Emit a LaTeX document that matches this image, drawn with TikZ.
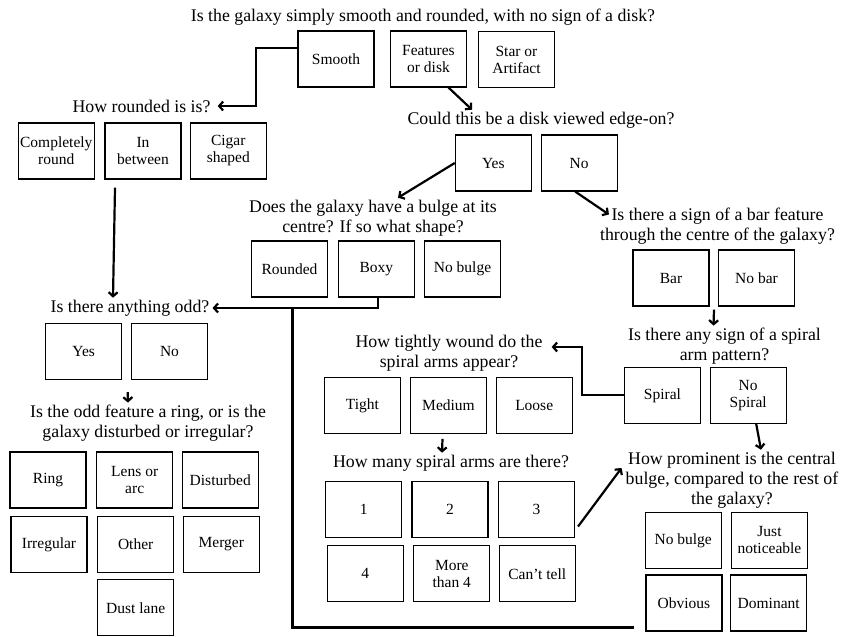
\documentclass[tikz,border=0pt]{standalone}
\usepackage{fontspec}
\setmainfont{Liberation Serif}
\usetikzlibrary{arrows.meta}
\tikzset{
  ques/.style={font=\fontsize{17.8}{20}\selectfont,align=center,inner sep=2pt},
  opt/.style={draw,line width=1.1pt,minimum width=76pt,minimum height=56pt,align=center,inner sep=1pt,font=\fontsize{15.5}{17}\selectfont},
  flow/.style={line width=2.2pt,-{Straight Barb[length=4pt,width=9pt]}},
  trunk/.style={line width=2.2pt},
}
\begin{document}
\begin{tikzpicture}[x=1pt,y=1pt]
  \useasboundingbox (0,0) rectangle (844,-637);
  \node[ques] (qsmooth) at (423,-17) {Is the galaxy simply smooth and rounded, with no sign of a disk?};
  \node[opt] (smooth) at (336,-59) {Smooth};
  \node[opt] (feat) at (428.5,-59) {Features\\or disk};
  \node[opt] (star) at (516.5,-59.5) {Star or\\Artifact};
  \node[ques] (qround) at (141.5,-106) {How rounded is is?};
  \node[opt] (cround) at (56.3,-151) {Completely\\round};
  \node[opt] (between) at (143,-151) {In\\between};
  \node[opt] (cigar) at (228.3,-151) {Cigar\\shaped};
  \node[ques] (qedge) at (541,-120) {Could this be a disk viewed edge-on?};
  \node[opt] (eyes) at (493.3,-163) {Yes};
  \node[opt] (eno) at (579.2,-163) {No};
  \node[ques] (qbulge) at (373,-218) {Does the galaxy have a bulge at its\\centre? If so what shape?};
  \node[opt] (brounded) at (289.5,-269) {Rounded};
  \node[opt] (boxy) at (376.3,-269) {Boxy};
  \node[opt] (bnone) at (462.5,-269) {No bulge};
  \node[ques] (qbar) at (717.5,-226.5) {Is there a sign of a bar feature\\through the centre of the galaxy?};
  \node[opt] (bar) at (671,-278) {Bar};
  \node[opt] (nobar) at (756.5,-278) {No bar};
  \node[ques] (qodd) at (130,-308) {Is there anything odd?};
  \node[opt] (oddyes) at (83.7,-351.5) {Yes};
  \node[opt] (oddno) at (169.5,-351.5) {No};
  \node[ques] (qspiral) at (724.5,-346) {Is there any sign of a spiral\\arm pattern?};
  \node[opt] (spiral) at (662.5,-395.3) {Spiral};
  \node[opt] (nospiral) at (748.2,-395.3) {No\\Spiral};
  \node[ques] (qtight) at (449,-353) {How tightly wound do the\\spiral arms appear?};
  \node[opt] (tight) at (362.5,-405.3) {Tight};
  \node[opt] (medium) at (448.5,-405.3) {Medium};
  \node[opt] (loose) at (534.2,-405.3) {Loose};
  \node[ques] (qring) at (148,-423) {Is the odd feature a ring, or is the\\galaxy disturbed or irregular?};
  \node[opt] (ring) at (48,-480) {Ring};
  \node[opt] (lens) at (134.7,-480) {Lens or\\arc};
  \node[opt] (disturbed) at (220.3,-480) {Disturbed};
  \node[opt] (irregular) at (49,-544.3) {Irregular};
  \node[opt] (other) at (135.7,-544.3) {Other};
  \node[opt] (merger) at (221.3,-544.3) {Merger};
  \node[opt] (dust) at (135.7,-607.7) {Dust lane};
  \node[ques] (qarms) at (451,-463) {How many spiral arms are there?};
  \node[opt] (arm1) at (363.8,-509.5) {1};
  \node[opt] (arm2) at (450,-509.5) {2};
  \node[opt] (arm3) at (536.5,-509.5) {3};
  \node[opt] (arm4) at (365.3,-573.7) {4};
  \node[opt] (armmore) at (451.8,-573.7) {More\\than 4};
  \node[opt] (armcant) at (537.3,-573.7) {Can’t tell};
  \node[ques] (qprom) at (732,-480) {How prominent is the central\\bulge, compared to the rest of\\the galaxy?};
  \node[opt] (pnone) at (683.2,-540.3) {No bulge};
  \node[opt] (pjust) at (769.5,-540.3) {Just\\noticeable};
  \node[opt] (pobv) at (684,-603) {Obvious};
  \node[opt] (pdom) at (768.7,-603) {Dominant};
  \draw[flow] ([yshift=11pt]smooth.west) -| ([xshift=43pt]qround.east) -- ([xshift=5pt]qround.east);
  \draw[flow] ([xshift=20pt]feat.south) -- ([xshift=-69pt]qedge.north);
  \draw[flow] ([xshift=-28pt,yshift=-8pt]between.south) -- ([xshift=-17pt]qodd.north);
  \draw[flow] (eyes.west) -- ([xshift=25pt]qbulge.north);
  \draw[flow] ([xshift=-4pt]eno.south) -- ([xshift=11pt,yshift=12pt]qbar.west);
  \draw[flow] ([xshift=2pt]boxy.south) |- ([xshift=1pt]qodd.east);
  \draw[trunk] ([xshift=-11pt,yshift=4pt]pobv.south west) -| ([xshift=81pt]qodd.east);
  \draw[flow] ([xshift=44pt,yshift=-12pt]oddyes.south) -- ([xshift=-20pt]qring.north);
  \draw[flow] ([xshift=43pt,yshift=-3pt]bar.south) -- ([xshift=-11pt]qspiral.north);
  \draw[flow] (spiral.west) -| ([xshift=37pt,yshift=6pt]qtight.east) -- ([xshift=7pt,yshift=6pt]qtight.east);
  \draw[flow] ([xshift=-6pt,yshift=-5pt]medium.south) -- ([xshift=-9pt]qarms.north);
  \draw[flow] ([xshift=3pt,yshift=-17pt]arm3.east) -- ([xshift=-2pt,yshift=12pt]qprom.west);
  \draw[flow] ([xshift=8pt]nospiral.south) -- ([xshift=29pt]qprom.north);
\end{tikzpicture}
\end{document}
